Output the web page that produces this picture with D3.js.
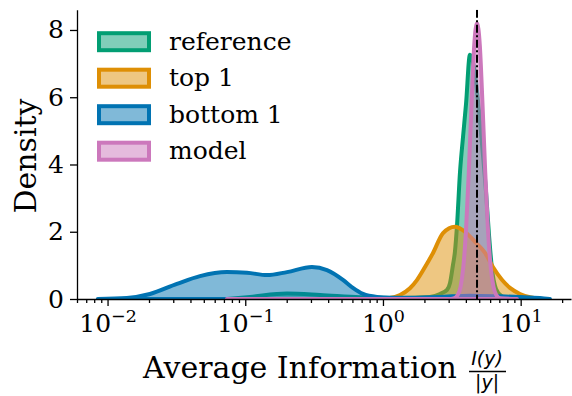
<!DOCTYPE html>
<html>
<head>
<meta charset="utf-8">
<script src="https://cdn.jsdelivr.net/npm/d3@7"></script>
<style>
  body { margin: 0; background: #fff; }
  svg { display: block; }
  text { font-family: "DejaVu Serif", serif; fill: #000; }
</style>
</head>
<body>
<svg id="chart" width="572" height="396"></svg>
<script>
// density curves: [average information, density]
const reference = [[0.0736,0],[0.108,0.06],[0.201,0.16],[0.349,0.12],[0.681,0.05],[1.33,0.03],[2.19,0.06],[2.59,0.15],[2.92,0.27],[3.07,0.48],[3.22,1.0],[3.33,1.4],[3.45,2.2],[3.63,3.8],[3.81,4.8],[4.01,5.8],[4.28,7.26],[4.58,6.9],[4.90,5.9],[5.24,4.6],[5.60,3.2],[5.89,1.9],[6.19,0.9],[6.62,0.3],[7.31,0.08],[8.36,0]]
const top1 = [[0.805,0],[0.951,0.01],[1.12,0.03],[1.33,0.12],[1.57,0.32],[1.77,0.57],[2.02,0.95],[2.31,1.37],[2.73,1.96],[3.33,2.15],[3.94,2.0],[4.66,1.7],[5.51,1.37],[6.29,0.95],[7.31,0.57],[8.36,0.33],[9.89,0.15],[11.7,0.05],[13.8,0.01],[15.8,0]]
const bottom1 = [[0.0085,0],[0.0138,0.03],[0.0203,0.15],[0.0319,0.45],[0.0469,0.68],[0.0736,0.80],[0.103,0.78],[0.144,0.71],[0.201,0.80],[0.305,0.95],[0.392,0.86],[0.512,0.57],[0.605,0.33],[0.716,0.15],[0.905,0.06],[1.12,0.04],[1.57,0.04],[2.59,0.06],[4.28,0.1],[7.08,0.08],[9.89,0.06],[13.8,0.03],[16.3,0]]
const model = [[0.0736,0],[3.0,0],[3.26,0.02],[3.49,0.12],[3.66,0.36],[3.83,0.94],[4.01,2.05],[4.20,3.77],[4.40,5.82],[4.60,7.55],[4.82,8.2],[5.05,7.55],[5.28,5.82],[5.53,3.77],[5.79,2.05],[6.06,0.94],[6.35,0.36],[6.65,0.12],[7.13,0.02],[9.4,0]]

const seriesNames = ["reference", "top 1", "bottom 1", "model"]
const seriesData = [reference, top1, bottom1, model]
const colors = ["#029e73", "#de8f05", "#0173b2", "#cc78bc"]

const markerX = 4.82   // dash-dot line
const yTicks = [0, 2, 4, 6, 8]
const xMajors = [0.01, 0.1, 1, 10]
const xExponents = ["\u22122", "\u22121", "0", "1"]

const svg = d3.select("#chart")
const pLeft = 77, pRight = 571, pTop = 9.8, pBottom = 299

const x = d3.scaleLog().domain([0.006, 23.2]).range([pLeft, pRight])
const y = d3.scaleLinear().domain([0, 8.6]).range([pBottom, pTop])

svg.append("clipPath").attr("id", "plot")
  .append("rect")
  .attr("x", pLeft).attr("y", pTop)
  .attr("width", pRight - pLeft).attr("height", pBottom - pTop)

const area = d3.area()
  .x(d => x(d[0]))
  .y0(y(0))
  .y1(d => y(d[1]))
  .curve(d3.curveMonotoneX)

const curves = svg.append("g").attr("clip-path", "url(#plot)")

seriesData.forEach((s, i) => {
  curves.append("path")
    .datum(s)
    .attr("d", area)
    .attr("fill", colors[i])
    .attr("fill-opacity", 0.5)
    .attr("stroke", colors[i])
    .attr("stroke-width", 4)
    .attr("stroke-linejoin", "round")
})

// vertical dash-dot
curves.append("line")
  .attr("x1", x(markerX)).attr("x2", x(markerX))
  .attr("y1", pTop).attr("y2", pBottom)
  .attr("stroke", "#000")
  .attr("stroke-width", 2)
  .attr("stroke-dasharray", "8,2.5,2,2.5")

// axes
const minorTicks = x.ticks().filter(t => !xMajors.includes(t))

const xMinor = svg.append("g")
  .attr("transform", "translate(0," + pBottom + ")")
  .call(d3.axisBottom(x).tickValues(minorTicks).tickSize(4).tickSizeOuter(0).tickFormat(""))
xMinor.select(".domain").remove()

const xAxis = svg.append("g")
  .attr("transform", "translate(0," + pBottom + ")")
  .call(d3.axisBottom(x).tickValues(xMajors).tickSize(7).tickSizeOuter(0).tickFormat(""))

xAxis.selectAll(".tick").each(function(d, i) {
  const t = d3.select(this).append("text")
    .attr("y", 33)
    .attr("text-anchor", "middle")
    .style("font-size", "25px")
  t.append("tspan").text("10")
  t.append("tspan").attr("dy", -10).style("font-size", "17.5px").text(xExponents[i])
})

const yAxis = svg.append("g")
  .attr("transform", "translate(" + pLeft + ",0)")
  .call(d3.axisLeft(y).tickValues(yTicks).tickSize(7).tickPadding(6).tickSizeOuter(0))
yAxis.selectAll(".tick text").style("font-size", "25px").attr("fill", "#000")

svg.selectAll(".domain, .tick line").attr("stroke", "#000").attr("stroke-width", 1.3)

// axis labels
svg.append("text")
  .attr("transform", "translate(36,156) rotate(-90)")
  .attr("text-anchor", "middle")
  .style("font-size", "30px")
  .text("Density")

svg.append("text")
  .attr("x", 143).attr("y", 378)
  .style("font-size", "30px")
  .text("Average Information")

const frac = svg.append("g").attr("transform", "translate(487,0)")
frac.append("text")
  .attr("y", 365).attr("text-anchor", "middle")
  .style("font-family", "DejaVu Sans").style("font-style", "italic").style("font-size", "19px")
  .text("I(y)")
frac.append("line")
  .attr("x1", -18).attr("x2", 19).attr("y1", 371.5).attr("y2", 371.5)
  .attr("stroke", "#000").attr("stroke-width", 1.4)
frac.append("text")
  .attr("y", 389).attr("text-anchor", "middle")
  .style("font-family", "DejaVu Sans").style("font-style", "italic").style("font-size", "19px")
  .text("|y|")

// legend
const legend = svg.append("g")
seriesNames.forEach((name, i) => {
  const cy = 41.7 + i * 36.5
  legend.append("rect")
    .attr("x", 99).attr("y", cy - 8.5)
    .attr("width", 50).attr("height", 17)
    .attr("fill", colors[i]).attr("fill-opacity", 0.5)
    .attr("stroke", colors[i]).attr("stroke-width", 4)
  legend.append("text")
    .attr("x", 169).attr("y", cy + 8)
    .style("font-size", "25px")
    .text(name)
})
</script>
</body>
</html>
